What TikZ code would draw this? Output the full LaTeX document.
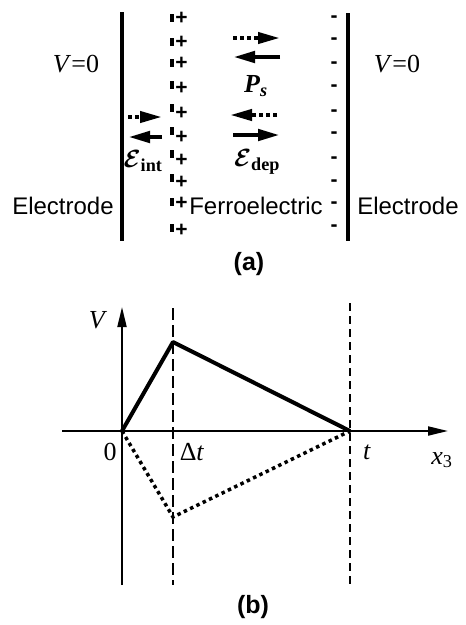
\documentclass[tikz,border=0pt]{standalone}
\usepackage{fontspec}
\setmainfont{Liberation Serif}
\setsansfont{Liberation Sans}
\usepackage{amsmath}
\usepackage{tikz}
\usetikzlibrary{arrows.meta}

\tikzset{
  electrode/.style={line width=4pt},
  solidarr/.style={line width=4.5pt, -{Triangle[length=22pt,width=11pt]}},
  dotarr/.style={line width=4pt, dash pattern=on 4pt off 3pt, -{Triangle[length=22pt,width=11pt]}},
  sanslbl/.style={font=\fontsize{24}{28}\selectfont\sffamily},
  serlbl/.style={font=\fontsize{26}{30}\selectfont},
  capt/.style={font=\fontsize{25}{28}\selectfont\sffamily\bfseries},
  charge/.style={font=\fontsize{21}{24}\selectfont\sffamily\bfseries, inner sep=0pt},
  axis/.style={line width=2pt, -{Triangle[length=20pt,width=9pt]}},
  curve/.style={line width=4pt, line join=round},
}

\begin{document}
\begin{tikzpicture}[x=1pt, y=-1pt]
\useasboundingbox (0,0) rectangle (466,625);

% (a) capacitor with ferroelectric layer
\draw[electrode] (122,12) -- (122,241);
\draw[electrode] (348,13) -- (348,241);
\foreach \p/\b [count=\i] in {18/18, 42/42, 63/63, 88/85, 113/108, 137/131, 160/154, 182/178, 203/202, 230/228} {
  \draw[line width=3.5pt] (172,\b-4) -- (172,\b+4);
  \node[charge] (plus\i) at (181.5,\p) {+};
}
\foreach \y [count=\i] in {21,43,67,90,115,137,162,185,207,230}
  \node[charge, yshift=2pt] (minus\i) at (334,\y) {-};

\node[serlbl] (vleft) at (76,64) {\textit{V}=0};
\node[serlbl] (vright) at (397,64) {\textit{V}=0};
\node[sanslbl] (eleft) at (63,206) {Electrode};
\node[sanslbl] (eright) at (408,206) {Electrode};
\node[sanslbl] (ferro) at (256,206) {Ferroelectric};

\draw[dotarr] (233,38) -- (280,38);
\draw[solidarr] (280,57) -- (233,57);
\node[serlbl] (ps) at (256,86) {\textbf{\textit{P}}\textsubscript{\textbf{\textit{s}}}};

\draw[dotarr] (277,115) -- (230,115);
\draw[solidarr] (233,135) -- (280,135);
\node[serlbl] (edep) at (257,162) {$\boldsymbol{\mathcal{E}}_{\textbf{dep}}$};

\draw[dotarr] (128,117) -- (162,117);
\draw[solidarr] (162,137) -- (128,137);
\node[serlbl] (eint) at (143,161) {$\boldsymbol{\mathcal{E}}_{\textbf{int}}$};

\node[capt] (capa) at (249,264) {(a)};

% (b) potential profile
\coordinate (O) at (122,431);
\coordinate (A) at (173,342);
\coordinate (B) at (173,517);
\coordinate (T) at (350,431);

\draw[axis] (122,585) -- (122,307);
\draw[axis] (62,431) -- (448,431);
\draw[line width=1.5pt, dash pattern=on 12pt off 5pt] (173,308) -- (173,585);
\draw[line width=2.5pt, dash pattern=on 8pt off 5pt] (350,303) -- (350,585);

\draw[curve] (O) -- (A) -- (T);
\draw[line width=3.5pt, dash pattern=on 3.5pt off 3.5pt] (O) -- (B) -- (T);

\node[serlbl] (vlab) at (98,320) {\textit{V}};
\node[serlbl] (zero) at (110,452) {0};
\node[serlbl] (dt) at (192,452) {Δ\textit{t}};
\node[serlbl] (tlab) at (367,452) {\textit{t}};
\node[serlbl] (x3) at (442,460) {\textit{x}\textsubscript{3}};

\node[capt] (capb) at (253,607) {(b)};
\end{tikzpicture}
\end{document}
